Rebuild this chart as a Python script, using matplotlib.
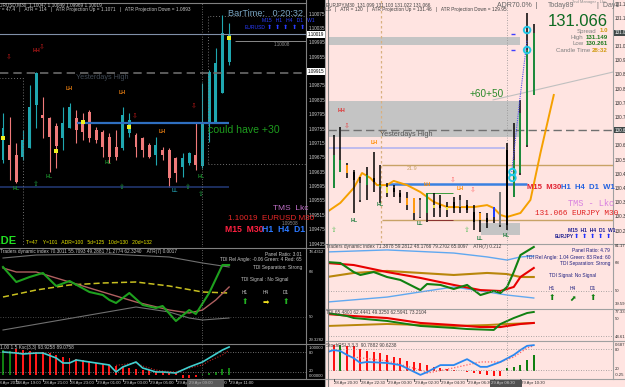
import matplotlib.pyplot as plt
from matplotlib.lines import Line2D
from matplotlib.patches import Rectangle

W, H = 625, 387
PINK = "#ffe4e1"

# ---------------- left chart: EURUSD M30 ----------------
L_open = [1.09669, 1.09711, 1.09683, 1.09677, 1.09702, 1.09822, 1.09794, 1.09786, 1.09764, 1.09730,
          1.09758, 1.09786, 1.09775, 1.09803, 1.09753, 1.09747, 1.09733, 1.09705, 1.09702, 1.09744,
          1.09739, 1.09730, 1.09711, 1.09683, 1.09697, 1.09697, 1.09675, 1.09650, 1.09661, 1.09683,
          1.09652, 1.09775, 1.09772, 1.09855, 1.09941]
L_high = [1.09800, 1.09789, 1.09716, 1.09753, 1.09878, 1.09914, 1.09844, 1.09789, 1.09772, 1.09816,
          1.09828, 1.09808, 1.09800, 1.09808, 1.09761, 1.09753, 1.09744, 1.09753, 1.09816, 1.09800,
          1.09744, 1.09733, 1.09716, 1.09733, 1.09705, 1.09702, 1.09677, 1.09689, 1.09691, 1.09775,
          1.09883, 1.09919, 1.09980, 1.10072, 1.10050]
L_low = [1.09661, 1.09614, 1.09605, 1.09669, 1.09702, 1.09758, 1.09730, 1.09636, 1.09647, 1.09697,
         1.09758, 1.09716, 1.09725, 1.09719, 1.09716, 1.09677, 1.09661, 1.09669, 1.09697, 1.09733,
         1.09677, 1.09677, 1.09675, 1.09655, 1.09669, 1.09594, 1.09608, 1.09622, 1.09655, 1.09641,
         1.09647, 1.09719, 1.09772, 1.09855, 1.09933]
L_close = [1.09758, 1.09669, 1.09608, 1.09725, 1.09816, 1.09911, 1.09786, 1.09733, 1.09708, 1.09772,
           1.09816, 1.09753, 1.09747, 1.09730, 1.09725, 1.09705, 1.09677, 1.09677, 1.09794, 1.09780,
           1.09705, 1.09697, 1.09677, 1.09711, 1.09683, 1.09619, 1.09633, 1.09675, 1.09689, 1.09655,
           1.09775, 1.09914, 1.09939, 1.10022, 1.10019]
L_dots_i = [0, 8, 12, 19, 34]
L_dots = [1.09730, 1.09694, 1.09775, 1.09761, 1.10008]
L_yhigh, L_cur, L_round = 1.09911, 1.10019, 1.10000
L_blue, L_navy = 1.09772, 1.09594
L_times = ["28 Apr 19:00", "28 Apr 21:00", "28 Apr 23:00", "29 Apr 01:00", "29 Apr 03:00",
           "29 Apr 05:00", "29 Apr 07:00", "29 Apr 09:00", "29 Apr 11:00"]
L_times_i = [2, 6, 10, 14, 18, 22, 26, 30, 34]

# left TDI
LT_up_i, LT_up = [0, 5, 16, 25, 30, 34], [73.6, 74.8, 75.2, 74.0, 71.6, 70.0]
LT_lo_i, LT_lo = [0, 20, 25, 28, 30, 34], [44.8, 54.0, 52.0, 49.6, 48.8, 49.6]
LT_base_i = [0, 5, 10, 15, 20, 25, 30, 34]
LT_base = [58.0, 60.8, 62.8, 63.6, 64.0, 62.4, 60.0, 59.6]
LT_sig_i = [0, 2, 5, 10, 15, 20, 25, 28, 30, 32, 34]
LT_sig = [69.6, 68.0, 68.0, 64.0, 60.0, 56.0, 52.8, 51.6, 52.8, 56.8, 62.0]
LT_rsi_i = [0, 2, 4, 6, 8, 10, 13, 15, 16, 17, 19, 21, 23, 24, 26, 28, 29, 31, 33, 34]
LT_rsi = [70.0, 64.0, 66.0, 67.6, 62.4, 64.4, 60.0, 58.8, 56.8, 55.6, 59.6, 54.8, 53.6, 54.4,
          48.4, 52.8, 51.2, 59.6, 70.8, 70.8]

# left stoch panel
LB_hist = [86, 83, 89, 86, 83, 80, 80, 77, 71, 65, 62, 59, 56, 53, 47, 44, 41, 38, 35, 32,
           29, 26, 26, 23, 20, 20, 17, 2, 2, 5, 14, 17, 20, 29, 32]
LB_col = "gg" + "r" * 28 + "ggggg"
LB_line_i = [0, 2, 3, 5, 6, 8, 9, 10, 11, 13, 14, 16, 17, 18, 20, 21, 23, 24, 26, 28, 30, 31, 33, 34]
LB_line = [80, 77, 74, 77, 77, 62, 47, 47, 56, 50, 47, 41, 20, 35, 50, 32, 20, 20, 17, 35, 50, 62, 86, 95]
LB_sig_i = [17, 20, 21, 23, 24, 26, 28, 30, 31, 33, 34]
LB_sig = [40, 47, 38, 26, 23, 20, 32, 41, 53, 71, 86]

# ---------------- right chart: EURJPY M30 ----------------
R_high = [130.511, 130.653, 130.685, 130.539, 130.511, 130.483, 130.523, 130.584, 130.531, 130.459,
          130.450, 130.430, 130.422, 130.398, 130.398, 130.418, 130.418, 130.410, 130.382, 130.402,
          130.410, 130.390, 130.369, 130.341, 130.337, 130.361, 130.422, 130.621, 130.702, 130.795,
          131.147, 131.102]
R_low = [130.430, 130.438, 130.503, 130.479, 130.337, 130.382, 130.390, 130.422, 130.378, 130.402,
         130.402, 130.378, 130.349, 130.309, 130.317, 130.301, 130.321, 130.321, 130.321, 130.337,
         130.337, 130.337, 130.268, 130.262, 130.276, 130.297, 130.280, 130.268, 130.402, 130.491,
         130.604, 130.815]
R_bo = [130.479, 130.438, 130.503, 130.531, 130.503, 130.459, 130.450, 130.479, 130.442, 130.442,
        130.438, 130.418, 130.398, 130.398, 130.390, 130.337, 130.369, 130.369, 130.361, 130.382,
        130.390, 130.369, 130.341, 130.337, 130.317, 130.321, 130.422, 130.288, 130.402, 130.499,
        130.612, 130.815]
R_bc = [130.471, 130.572, 130.552, 130.499, 130.471, 130.390, 130.491, 130.463, 130.450, 130.418,
        130.422, 130.402, 130.369, 130.337, 130.321, 130.418, 130.357, 130.357, 130.349, 130.357,
        130.361, 130.349, 130.301, 130.309, 130.301, 130.361, 130.288, 130.592, 130.552, 130.742,
        130.997, 131.066]
R_col = "kggokagkgykkooagykykakkokbakgggg"
R_ma_i = [0, 2, 4, 5.25, 6.5, 7.5, 9, 10, 12, 14, 16, 18, 20, 22, 24, 25, 26, 27, 29, 30.5, 32, 34]
R_ma = [130.341, 130.378, 130.438, 130.499, 130.479, 130.450, 130.450, 130.467, 130.450, 130.422,
        130.382, 130.361, 130.361, 130.361, 130.369, 130.357, 130.329, 130.321, 130.337, 130.390,
        130.580, 130.815]
R_zone1, R_zone2, R_zone3 = (131.017, 131.050), (130.645, 130.791), (130.248, 130.297)
R_yhigh, R_lav, R_tan1, R_tan2, R_blue = 130.673, 130.600, 130.531, 130.309, 130.454
R_box = (130.309, 130.418)
R_trend_i, R_trend = [24.9, 42.9], [130.795, 130.908]
R_dot_i, R_dot = [27.7, 28.9, 30.0], [130.503, 130.795, 131.038]
R_ring_i, R_ring = [30.0, 30.0, 27.8, 27.8], [131.078, 130.997, 130.503, 130.479]
R_times = ["28 Apr 20:30", "28 Apr 22:30", "29 Apr 00:30", "29 Apr 02:30", "29 Apr 04:30",
           "29 Apr 06:30", "29 Apr 08:30", "29 Apr 10:30"]
R_times_i = [1, 5, 9, 13, 17, 21, 25, 29]

# right TDI
RT_up_i, RT_up = [0, 9, 19, 24, 27, 29, 31], [75.1, 76.4, 74.4, 71.9, 69.9, 71.9, 72.5]
RT_lo_i, RT_lo = [0, 9, 14, 19, 24, 27, 31], [42.9, 46.1, 49.4, 52.6, 49.4, 47.4, 45.5]
RT_base_i = [0, 4, 9, 14, 19, 24, 27, 29, 31]
RT_base = [59.0, 61.6, 62.9, 61.6, 60.3, 61.6, 60.9, 59.0, 59.0]
RT_sig_i = [0, 4, 9, 14, 19, 23, 26, 28, 29, 31]
RT_sig = [68.0, 66.7, 62.2, 58.4, 53.9, 50.6, 50.0, 52.6, 59.0, 64.8]
RT_rsi_i = [0, 2, 4, 5, 7, 9, 11, 14, 15, 17, 19, 21, 23, 25, 26, 27, 28, 29, 31]
RT_rsi = [68.6, 68.0, 62.2, 60.3, 62.2, 59.0, 57.1, 50.6, 54.5, 53.9, 51.3, 53.9, 47.4, 50.0,
          48.7, 52.6, 62.2, 73.1, 78.3]
# right second TDI
RT2_sig_i = [0, 4, 9, 14, 19, 23, 26, 27, 29, 31]
RT2_sig = [72.0, 69.9, 67.8, 62.6, 60.4, 58.3, 58.3, 59.4, 61.5, 62.6]
RT2_rsi_i = [0, 3, 4, 9, 14, 19, 21, 25, 26, 28, 30, 31]
RT2_rsi = [73.1, 69.9, 67.8, 64.7, 59.4, 57.3, 56.2, 55.2, 61.5, 67.8, 73.1, 74.2]
RT2_base_i, RT2_base = [0, 9, 19, 24, 27, 31], [59.4, 61.5, 59.4, 60.4, 61.5, 62.6]
# right stoch panel
RB_hist = [91, 91, 91, 89, 89, 80, 74, 71, 69, 63, 57, 54, 46, 43, 40, 34, 29, 26, 23, 20,
           17, 14, 11, 9, 6, 3, 3, 26, 29, 34, 49, 63]
RB_col = "grgrr" + "r" * 22 + "ggggg"
RB_line_i = [0, 1, 2, 3, 4, 5, 6, 9, 11, 14, 15, 17, 19, 21, 23, 24, 26, 28, 29, 30, 31]
RB_line = [71, 77, 74, 63, 54, 40, 43, 40, 34, 6, 14, 34, 34, 51, 29, 29, 43, 63, 77, 89, 91]
RB_sig_i = [4, 9, 14, 15, 19, 23, 26, 28, 30, 31]
RB_sig = [57, 46, 20, 11, 26, 43, 43, 57, 83, 89]

plt.rcParams['font.family'] = ['Liberation Sans', 'DejaVu Sans']
fig = plt.figure(figsize=(W / 100, H / 100), dpi=100)
fig.patch.set_facecolor("black")


def lin(m):
    pa, va, pb, vb = m
    k = (vb - va) / (pb - pa)
    return lambda p: va + (p - pa) * k


def px_axes(x0, y0, x1, y1, xmap, ymap, bg):
    # axes box given in screen pixels, limits from pixel->value maps
    ax = fig.add_axes([x0 / W, 1 - y1 / H, (x1 - x0) / W, (y1 - y0) / H])
    fx, fy = lin(xmap), lin(ymap)
    ax.set_xlim(fx(x0), fx(x1))
    ax.set_ylim(fy(y1), fy(y0))
    ax.set_facecolor(bg)
    ax.set_xticks([])
    ax.set_yticks([])
    for s in ax.spines.values():
        s.set_visible(False)
    return ax


def ftext(x, y, s, clip=None, **kw):
    kw.setdefault("va", "center")
    if clip is None:
        fig.text(x / W, 1 - y / H, s, **kw)
    else:
        t = clip.text(x / W, 1 - y / H, s, transform=fig.transFigure, **kw)
        t.set_clip_box(clip.bbox)
        t.set_clip_on(True)


def fline(x0, y0, x1, y1, **kw):
    fig.add_artist(Line2D([x0 / W, x1 / W], [1 - y0 / H, 1 - y1 / H], transform=fig.transFigure, **kw))


def frect(x0, y0, x1, y1, **kw):
    fig.add_artist(Rectangle((x0 / W, 1 - y1 / H), (x1 - x0) / W, (y1 - y0) / H,
                             transform=fig.transFigure, **kw))


frect(326, 0, 625, 387, facecolor=PINK, edgecolor="none", zorder=-5)

XL = (3, 0, 9.65, 1)
XR = (327, 0, 333.67, 1)
YL = (14, 1.10075, 28.375, 1.10035)
YR = (33, 131.066, 133, 130.661)
py_L = lin((1.10075, 14, 1.10035, 28.375))
py_R = lin((131.066, 33, 130.661, 133))
px_L = lin((0, 3, 1, 9.65))
px_R = lin((0, 327, 1, 333.67))

# ---------- left main ----------
ax = px_axes(0, 3, 306, 247, XL, YL, "black")
for i in range(len(L_open)):
    up = L_close[i] >= L_open[i]
    c = "#1fa7b0" if up else "#f07a7a"
    ax.vlines(i, L_low[i], L_high[i], color=c, lw=0.8)
    ax.bar(i, L_close[i] - L_open[i], bottom=L_open[i], width=0.45, color=c, lw=0)
ax.scatter(L_dots_i, L_dots, s=5, marker="s", color="#f0f020", zorder=4, lw=0)
ax.axhline(L_yhigh, color="#6a6a6a", lw=1.2, dashes=(5, 3))
ax.axhline(L_cur, color="#8090a8", lw=0.8)
ax.hlines(L_round, 34.9, 46, color="#8a8a8a", lw=0.7)
ax.hlines(L_blue, 11.1, 34, color="#2f6fc0", lw=1.6)
ax.hlines(L_navy, -1, 34, color="#243a78", lw=1.1)
ax.add_patch(Rectangle((30.85, 1.09658), 20, 1.10069 - 1.09658, fill=False, ec="#707070", lw=0.7, ls=(0, (1, 2))))
ax.plot([-1, 3, 3], [1.09897, 1.09897, 1.0940], color="#707070", lw=0.7, ls=(0, (1, 2)))
ax.axvline(30, color="#808080", lw=0.6, ls=(0, (1, 2)))

lt = px_axes(0, 249, 306, 343, XL, (272, 68, 317, 50), "black")
lt.plot(LT_up_i, LT_up, color="#707070", lw=0.8)
lt.plot(LT_lo_i, LT_lo, color="#707070", lw=0.8)
lt.plot(LT_base_i, LT_base, color="#c8c020", lw=1.1, dashes=(4, 2))
lt.plot(LT_sig_i, LT_sig, color="#b06060", lw=1.0)
lt.plot(LT_rsi_i, LT_rsi, color="#1ea01e", lw=1.5)
lt.axhline(50, color="#606060", lw=0.6, ls=(0, (1, 2)))
lt.axvline(30, color="#808080", lw=0.6, ls=(0, (1, 2)))

lb = px_axes(0, 345, 306, 378, XL, (352, 80, 372, 20), "black")
for i, v in enumerate(LB_hist):
    lb.bar(i, v - 11, bottom=11, width=0.3, color="#ff1818" if LB_col[i] == "r" else "#108010", lw=0)
lb.plot(LB_sig_i, LB_sig, color="#c02020", lw=0.8, ls=(0, (1, 1.5)))
lb.plot(LB_line_i, LB_line, color="#40d0d0", lw=1.2)
lb.axhline(80, color="#909090", lw=0.6, ls=(0, (1, 2)))
lb.axhline(20, color="#909090", lw=0.6, ls=(0, (1, 2)))
lb.axvline(30, color="#808080", lw=0.6, ls=(0, (1, 2)))

# left frame lines
fline(0, 2.5, 306, 2.5, color="#808080", lw=0.8)
fline(306, 0, 306, 378, color="#808080", lw=0.8)
fline(0, 248, 325, 248, color="#808080", lw=0.8)
fline(0, 344, 325, 344, color="#808080", lw=0.8)
fline(0, 378.5, 325, 378.5, color="#808080", lw=0.8)
fline(325, 0, 325, 387, color="#a0a0a0", lw=0.8)

for k in range(17):
    v = 1.10075 - 0.0004 * k
    ftext(309, py_L(v), f"{v:.5f}", color="#d0d0d0", fontsize=3.3)
for v in (L_cur, 1.09915):
    ftext(307.5, py_L(v), f"{v:.5f}", color="black", fontsize=3.3, zorder=5,
          bbox=dict(boxstyle="square,pad=0.2", fc="white", ec="none"))

# left text overlays
tiny = dict(color="#c8c8c8", fontsize=3.4)
ftext(-4, 4.5, "EURUSD,M30  1.10047 1.10049 1.09969 1.10019", **tiny)
ftext(-2, 9.5, "y = 47.4   |   ATR = 114   |   ATR Projection Up = 1.1071   |   ATR Projection Down = 1.0893", **tiny)
ftext(228, 14, "BarTime:   0:20:32", color="#7aa6c2", fontsize=6.6)
ftext(262, 21, "M15   H1   H4   D1   W1", color="#2a3cff", fontsize=3.6)
ftext(245, 27.5, "EURUSD", color="#2a3cff", fontsize=3.6)
for k in range(5):
    ftext(267 + 8.2 * k, 27.5, "⬆", color="#2a3cff", fontsize=4.5, family="DejaVu Sans")
ftext(274, 44, "1.10008", color="#909090", fontsize=3.3)
ftext(76, 77.5, "Yesterdays High", color="#404a55", fontsize=5.2)
ftext(208, 130, "could have +30", color="#1e9c1e", fontsize=7.6)
ftext(33, 50, "HH", color="#b01818", fontsize=3.8, weight="bold")
for x, y in ((42, 47), (9, 57), (135, 116), (194, 106)):
    ftext(x, y, "⇩", color="#b01818", fontsize=5, family="DejaVu Sans", ha="center")
for x, y in ((69, 88), (122, 93), (162, 131)):
    ftext(x, y, "LH", color="#e07a10", fontsize=3.8, weight="bold", ha="center")
for x, y, s in ((16, 189, "HL"), (49, 177, "HL"), (108, 163, "HL"), (175, 191, "LL"), (201, 176, "HL")):
    ftext(x, y, s, color="#1a8a2a" if s == "HL" else "#1f8f9f", fontsize=3.8, weight="bold", ha="center")
for x, y in ((36, 184), (122, 187), (188, 187), (201, 194)):
    ftext(x, y, "⇧", color="#1f9a40", fontsize=5, family="DejaVu Sans", ha="center")
ftext(273, 208, "TMS  Lkc", color="#c070c8", fontsize=6)
ftext(228, 218.5, "1.10019  EURUSD M30", color="#e82828", fontsize=5.9)
ftext(282, 223.5, "1.09508", color="#909090", fontsize=3.3)
ftext(225, 229.5, "M15  M30", color="#ff2040", fontsize=6.2, weight="bold", clip=ax)
ftext(262, 229.5, "H1  H4  D1  W1", color="#2b78ff", fontsize=6.2, weight="bold", clip=ax)
ftext(16.5, 241, "NO TRADE", color="#22e022", fontsize=8, weight="bold", ha="right")
ftext(26, 242.5, "T=47    Y=101   ADR=100   5d=125   10d=130   20d=132", color="#e8e800", fontsize=3.6)

ftext(0, 251.5, "Traders dynamic index 70.3011 55.7093 49.2881 71.2774 62.3240    ATR(7) 0.0017", **tiny)
ftext(302, 254, "Panel Ratio: 3.01", ha="right", **tiny)
ftext(302, 260, "TDI Rel Angle: -0.06 Green: 4 Red: 65", ha="right", **tiny)
ftext(302, 267, "TDI Separation: Strong", ha="right", **tiny)
ftext(265, 279, "TDI Signal : No Signal", ha="center", **tiny)
for x, s, a, c in ((245, "H1", "⬆", "#22b022"), (266, "H4", "➡", "#f0e020"), (286, "D1", "⬆", "#22b022")):
    ftext(x, 292, s, ha="center", **tiny)
    ftext(x, 302, a, color=c, fontsize=5.5, ha="center", family="DejaVu Sans")
for y, s in ((252, "78.4312"), (272, "68"), (317, "50"), (340, "29.3282"),
             (348, "1.00000"), (353, "80"), (371, "20"), (376, "0.00000")):
    ftext(309, y, s, color="#d0d0d0", fontsize=3.1)
ftext(0, 347.5, "1.00 1.5 Ksc(3,3) 93.9258 89.0758", **tiny)

ftext(-3, 383, "28 Apr 2015", color="#d0d0d0", fontsize=3.1)
for i, s in zip(L_times_i, L_times):
    x = px_L(i)
    fline(x, 378.5, x, 380.5, color="#c0c0c0", lw=0.6)
    ftext(x + 0.8, 383, s, color="#d0d0d0", fontsize=3.1)
frect(187, 379.5, 224, 386.5, facecolor="#5a5a5a", edgecolor="none", zorder=4)
ftext(189, 383, "29 Apr 09:00", color="#b0b0b0", fontsize=3.1, zorder=5)

# ---------- right main ----------
rx = px_axes(328, 0, 613, 243, XR, YR, PINK)
for lo, hi in (R_zone1, R_zone2):
    rx.add_patch(Rectangle((-1, lo), 29.9, hi - lo, fc="#c4c4c4", ec="none", zorder=0))
rx.add_patch(Rectangle((23.1, R_zone3[0]), 5.8, R_zone3[1] - R_zone3[0], fc="#c4c4c4", ec="none", zorder=0))
rx.axhline(R_yhigh, color="#707070", lw=1.0, dashes=(6, 3))
rx.hlines(R_lav, -1, 26.7, color="#b4b4f0", lw=1.2)
rx.hlines([R_tan1, R_tan2], 8.2, 45, color="#c8a266", lw=1.0)
rx.hlines(R_blue, 9.1, 30, color="#3a80e0", lw=1.8)
rx.hlines(R_box[1], 15, 18.9, color="#3a9a3a", lw=0.7)
rx.hlines(R_box[0], 15, 18.9, color="#8a3030", lw=0.7)
rx.axvline(8.1, color="#d8b080", lw=0.9, ls=(0, (2, 2)))
rx.axvline(27, color="#909090", lw=0.6, ls=(0, (1, 2)))
rx.plot(R_trend_i, R_trend, color="#c0c0c0", lw=0.8)
rx.plot(R_ma_i, R_ma, color="#f5a000", lw=1.4, zorder=3)
cmap = {"k": "black", "g": "#1e8a3c", "o": "#ff9a10", "a": "#7a7a7a", "y": "#e6e040", "b": "#2040ff"}
for i in range(len(R_high)):
    rx.vlines(i, R_low[i], R_high[i], color="black", lw=1.1, zorder=4)
    h = R_bc[i] - R_bo[i]
    rx.bar(i, h if abs(h) > 0.006 else 0.006, bottom=R_bo[i], width=0.3, color=cmap[R_col[i]], lw=0, zorder=5)
rx.plot(R_dot_i, R_dot, color="#5050f0", lw=0.8, ls=(0, (1, 1)), zorder=6)
rx.scatter(R_ring_i, R_ring, s=22, facecolors="none", edgecolors="#20c8e8", lw=1.4, zorder=7)
rx.hlines([131.062, 130.997], 27.6, 28.2, color="#4040ff", lw=1.0, zorder=6)

rt = px_axes(328, 244, 613, 308, XR, (263, 68, 291, 50), PINK)
rt.plot(RT_up_i, RT_up, color="#60a8f0", lw=1.0)
rt.plot(RT_lo_i, RT_lo, color="#60a8f0", lw=1.0)
rt.plot(RT_base_i, RT_base, color="#b8860b", lw=1.5)
rt.plot(RT_sig_i, RT_sig, color="#e80000", lw=1.5)
rt.plot(RT_rsi_i, RT_rsi, color="#108010", lw=1.5)
rt.axhline(50, color="#909090", lw=0.6, ls=(0, (1, 2)))
rt.axvline(27, color="#909090", lw=0.6, ls=(0, (1, 2)))

rt2 = px_axes(328, 309, 613, 340, XR, (309, 77.33, 340, 44.61), PINK)
rt2.plot(RT2_base_i, RT2_base, color="#b8860b", lw=1.4)
rt2.plot(RT2_sig_i, RT2_sig, color="#e80000", lw=1.5)
rt2.plot(RT2_rsi_i, RT2_rsi, color="#108010", lw=1.4)
rt2.axhline(48.8, color="#909090", lw=0.6, ls=(0, (1, 2)))
rt2.axvline(27, color="#909090", lw=0.6, ls=(0, (1, 2)))

rb = px_axes(328, 342, 613, 378, XR, (349, 80, 370, 20), PINK)
for i, v in enumerate(RB_hist):
    rb.bar(i, v - 17, bottom=17, width=0.3, color="#ff1010" if RB_col[i] == "r" else "#108010", lw=0)
rb.plot(RB_sig_i, RB_sig, color="#ff6060", lw=0.9, ls=(0, (1, 1.5)))
rb.plot(RB_line_i, RB_line, color="#2a88f0", lw=1.3)
rb.axhline(80, color="#909090", lw=0.6, ls=(0, (1, 2)))
rb.axhline(20, color="#909090", lw=0.6, ls=(0, (1, 2)))
rb.axvline(27, color="#909090", lw=0.6, ls=(0, (1, 2)))

for y in (243.5, 308.5, 341, 378.5):
    fline(326, y, 625, y, color="#a0a0a0", lw=0.8)
fline(613, 0, 613, 378.5, color="#a0a0a0", lw=0.8)
fline(327.5, 0, 327.5, 387, color="#808080", lw=0.8)

for k in range(17):
    y = 4 + 14.2 * k
    if abs(y - 33) < 5 or abs(y - py_R(R_yhigh)) < 5:
        continue
    v = 131.066 + (33 - y) * 0.00405
    ftext(615, y, f"{v:.3f}", color="#303030", fontsize=3.3)
for v in (131.066, R_yhigh):
    ftext(614.5, py_R(v), f"{v:.3f}", color="white", fontsize=3.3,
          bbox=dict(boxstyle="square,pad=0.2", fc="#404848", ec="none"))

dark = dict(color="#404040", fontsize=3.4)
ftext(326, 4.5, "EURJPY,M30  131.099 131.103 131.022 131.066", **dark)
ftext(324, 9.5, "ILS   |   ATR = 120   |   ATR Projection Up = 131.46   |   ATR Projection Down = 129.95", **dark)
ftext(497, 5.5, "ADR70.0%  |", color="#606060", fontsize=5)
ftext(548, 5.5, "Today89", color="#707070", fontsize=5)
ftext(572, 2.5, "2nd Manager - Lkc", color="#909090", fontsize=3)
ftext(597, 5.5, "|  Day1", color="#707070", fontsize=5)
ftext(608, 22, "131.066", color="#0e6a22", fontsize=12, ha="right")
for y, a, b, c in ((31, "Spread", "1.0", "#d09a10"), (37.5, "High", "131.149", "#1e7a1e"),
                   (43.5, "Low", "130.261", "#1e7a1e"), (50, "Candle Time", "28:32", "#d09a10")):
    ftext(607 - 3.4 * len(b), y, a, color="#808080", fontsize=4.4, ha="right")
    ftext(608, y, b, color=c, fontsize=4.4, ha="right", weight="bold")
ftext(470, 94, "+60+50", color="#2a8a2a", fontsize=7.2)
ftext(380, 134, "Yesterdays High", color="#555555", fontsize=5.2)
ftext(407, 168, "21.9", color="#c8a266", fontsize=4)
ftext(341, 110, "HH", color="#e03030", fontsize=3.8, weight="bold", ha="center")
for x, y, c in ((347, 126, "#e05050"), (453, 180, "#ff7070"), (473, 190, "#ff7070")):
    ftext(x, y, "⇩", color=c, fontsize=5, family="DejaVu Sans", ha="center")
for x, y in ((374, 142), (427, 185), (460, 189)):
    ftext(x, y, "LH", color="#ff8c00", fontsize=3.8, weight="bold", ha="center")
for x, y, s in ((380, 204, "HL"), (354, 220, "HL"), (420, 224, "LL"), (480, 239, "LL"), (506, 235, "HL")):
    ftext(x, y, s, color="#1a7a3a", fontsize=3.8, weight="bold", ha="center")
for x, y in ((334, 230), (467, 230)):
    ftext(x, y, "⇧", color="#60c060", fontsize=5, family="DejaVu Sans", ha="center")
ftext(527, 187, "M15  M30", color="#e02030", fontsize=5.6, weight="bold")
ftext(561, 187, "H1  H4  D1  W1", color="#2060e0", fontsize=5.6, weight="bold")
ftext(568, 203, "TMS - Lkc", color="#d880e0", fontsize=6.2, family="Liberation Mono")
ftext(535, 214, "131.066 EURJPY M30", color="#e02020", fontsize=5.6, family="Liberation Mono")
ftext(568, 230, "M15  H1  H4  D1  W1", color="#202090", fontsize=3.6, weight="bold")
ftext(555, 237, "EURJPY", color="#202090", fontsize=3.4, weight="bold")
for k in range(5):
    ftext(577 + 8 * k, 237, "⬆", color="#2030ff", fontsize=4.5, family="DejaVu Sans", ha="center")

ftext(326, 246.5, "Traders dynamic index 71.3878 59.2812 48.1766 79.2702 65.0097    ATR(7) 0.212", **dark)
navy = dict(color="#202080", fontsize=3.5)
ftext(610, 251, "Panel Ratio: 4.79", ha="right", **navy)
ftext(610, 257, "TDI Rel Angle: 1.04 Green: 83 Red: 60", ha="right", **navy)
ftext(610, 263, "TDI Separation: Strong", ha="right", **navy)
ftext(573, 275, "TDI Signal: No Signal", ha="center", **navy)
for x, s, a in ((552, "H1", "⬆"), (573, "H4", "⬈"), (593, "D1", "⬆")):
    ftext(x, 289, s, ha="center", **navy)
    ftext(x, 298, a, color="#108010", fontsize=5.5, ha="center", family="DejaVu Sans")
ftext(326, 312, "TDI 65.4800 62.4441 49.3250 62.5941 73.2104", **dark)
ftext(326, 345, "StochRSI 3,3,3  90.7882 90.6238", **dark)
for y, s in ((246, "81.17"), (263, "68"), (291, "50"), (304, "39.59"), (312, "77.33"), (319, "50"),
             (337, "44.61"), (345, "0.687"), (350, "80"), (369, "20"), (375, "-0.25")):
    ftext(615, y, s, color="#303030", fontsize=3.1)

for i, s in zip(R_times_i, R_times):
    x = px_R(i)
    fline(x, 378.5, x, 380.5, color="#404040", lw=0.6)
    ftext(x + 0.8, 383, s, color="#303030", fontsize=3.1)
frect(490, 379.5, 522, 386.5, facecolor="#505050", edgecolor="none", zorder=4)
ftext(491, 383, "29 Apr 08:30", color="#d0d0d0", fontsize=3.1, zorder=5)

fig.savefig("out.png", dpi=100, facecolor=fig.get_facecolor())
